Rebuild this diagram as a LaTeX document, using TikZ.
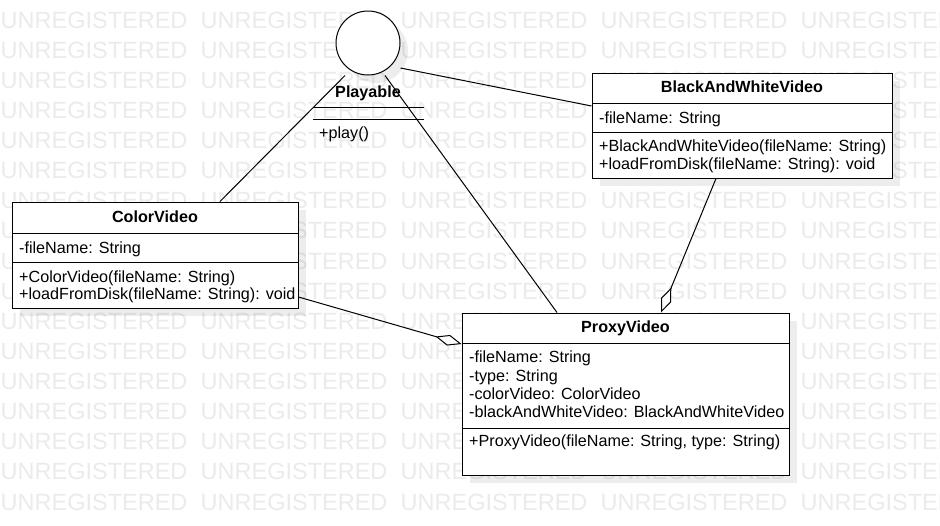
\documentclass[tikz,border=0pt]{standalone}
\usepackage{fontspec}
\setmainfont{Liberation Sans}
\usetikzlibrary{arrows.meta,shadows,calc}
\tikzset{
  wm/.style={font=\fontsize{23.5}{28}\selectfont, text=black!8, inner sep=0pt, anchor=base west},
  shad/.style={drop shadow={shadow xshift=8pt, shadow yshift=-8pt, fill=black, opacity=0.07}},
  cls/.style={draw=black, line width=1pt, fill=white, rectangle, inner sep=0pt, shad},
  sep/.style={draw=black, line width=1pt},
  ttl/.style={font=\fontsize{16.15}{19}\selectfont\bfseries, inner sep=0pt, anchor=base},
  mem/.style={font=\fontsize{16.15}{19}\selectfont, inner sep=0pt, anchor=base west},
  conn/.style={draw=black, line width=1pt},
  agg/.style={conn, -{Diamond[fill=white, length=27pt, width=11pt, line width=1pt]}},
}
\begin{document}
\begin{tikzpicture}[x=1pt, y=-1pt]
\useasboundingbox (0,0) rectangle (940,525);
\clip (0,0) rectangle (940,525);
\fill[white] (0,0) rectangle (940,525);
% watermark
\foreach \r in {0,...,16}{
  \foreach \c in {0,...,4}{
    \node[wm] (wm-\r-\c) at ({0.5+200*\c},{28+30.125*\r}) {UNREGISTERED};
  }
}
% Playable interface
\node[circle, draw=black, fill=white, line width=1pt, minimum size=64pt, inner sep=0pt, shad] (play) at (368,43) {};
\node[ttl] (playT) at (368,97) {Playable};
\draw[sep] (313,107) -- (424,107);
\draw[sep] (313,119) -- (424,119);
\node[mem] (playM) at (319,138) {+play()};

% ColorVideo
\node[cls, minimum width=286pt, minimum height=106pt] (cv) at (155,255) {};
\draw[sep] (12,233) -- (298,233);
\draw[sep] (12,262) -- (298,262);
\node[ttl] (cvT) at (155,222) {ColorVideo};
\node[mem] (cvA) at (19,253) {-fileName: String};
\node[mem] (cvM1) at (19,282.5) {+ColorVideo(fileName: String)};
\node[mem] (cvM2) at (19,299.5) {+loadFromDisk(fileName: String): void};

% BlackAndWhiteVideo
\node[cls, minimum width=300pt, minimum height=105pt] (bw) at (742,125.5) {};
\draw[sep] (592,103) -- (892,103);
\draw[sep] (592,132) -- (892,132);
\node[ttl] (bwT) at (742,92.3) {BlackAndWhiteVideo};
\node[mem] (bwA) at (599,123.3) {-fileName: String};
\node[mem] (bwM1) at (599,151.7) {+BlackAndWhiteVideo(fileName: String)};
\node[mem] (bwM2) at (599,169) {+loadFromDisk(fileName: String): void};

% ProxyVideo
\node[cls, minimum width=327pt, minimum height=162pt] (pv) at (625.5,394) {};
\draw[sep] (462,343) -- (789,343);
\draw[sep] (462,428) -- (789,428);
\node[ttl] (pvT) at (625.5,332.3) {ProxyVideo};
\node[mem] (pvA1) at (469,362.3) {-fileName: String};
\node[mem] (pvA2) at (469,381) {-type: String};
\node[mem] (pvA3) at (469,399) {-colorVideo: ColorVideo};
\node[mem] (pvA4) at (469,417.3) {-blackAndWhiteVideo: BlackAndWhiteVideo};
\node[mem] (pvM1) at (469,446.7) {+ProxyVideo(fileName: String, type: String)};

% connectors
\draw[conn] ([xshift=-23pt]play.south) -- ([xshift=65pt]cv.north);
\draw[conn] ([yshift=-25pt]play.east) -- ([yshift=19.5pt]bw.west);
\draw[conn] ([xshift=17pt]play.south) -- ([xshift=-68.5pt]pv.north);
\draw[agg] ([yshift=-42pt]cv.east) -- ([yshift=50pt]pv.west);
\draw[agg] ([xshift=-26pt]bw.south) -- ([xshift=35.5pt]pv.north);
\end{tikzpicture}
\end{document}
